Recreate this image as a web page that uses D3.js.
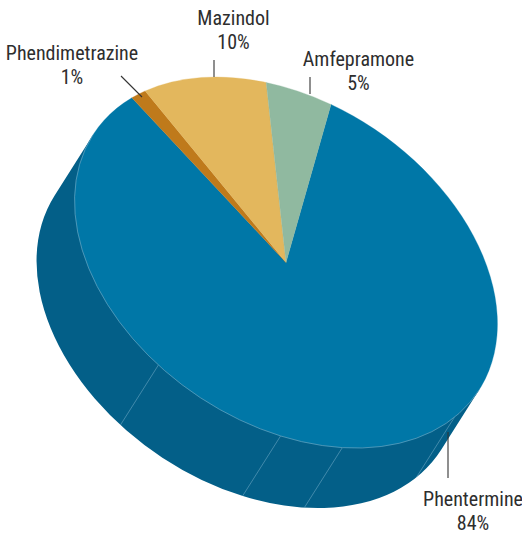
<!DOCTYPE html>
<html>
<head>
<meta charset="utf-8">
<script src="https://cdn.jsdelivr.net/npm/d3@7"></script>
<style>
html,body{margin:0;padding:0;background:#fff}
svg{display:block}
text{font-family:"Liberation Sans Narrow","Roboto Condensed","Liberation Sans",sans-serif;fill:#2e2e2e}
</style>
</head>
<body>
<svg id="chart" width="522" height="536"></svg>
<script>
// ---- data ----
const drugs = ["Phentermine", "Phendimetrazine", "Mazindol", "Amfepramone"];
const shares = [83.6, 1.4, 10.1, 4.9];
const shareLabels = ["84%", "1%", "10%", "5%"];
const wallSeams = [31.9, 42.3, 47.0, 56.9]; // cumulative % along the Phentermine rim

// ---- styles / layout ----
const topColors = ["#0077a7", "#bf7a1b", "#e3b75d", "#90b9a0"];
const wallColor = "#035f88";
const hairColor = "#6ba6c2";
const leaderColor = "#333333";
const W = 522, H = 536;
const cx = 286, cy = 262.5;
const semiMajor = 231.4, semiMinor = 160, tilt = 34.2 * Math.PI / 180;
const depthPx = [-38, 60];
const startDeg = -12.9;
const labelLayout = {
  "Phentermine":     {x: 473,   y: 506, lead: [[448, 432], [448, 478]]},
  "Phendimetrazine": {x: 72,    y: 60,  lead: [[121, 76], [142, 97]]},
  "Mazindol":        {x: 233.5, y: 25,  lead: [[214, 60], [214, 77]]},
  "Amfepramone":     {x: 358.5, y: 66,  lead: [[310, 77], [310, 94]]}
};

// ---- geometry: unit circle -> tilted ellipse ----
const A = semiMajor * Math.cos(tilt), B = semiMajor * Math.sin(tilt);
const C = -semiMinor * Math.sin(tilt), D = semiMinor * Math.cos(tilt);
const det = A * D - B * C;
const dx = (D * depthPx[0] - C * depthPx[1]) / det;
const dy = (-B * depthPx[0] + A * depthPx[1]) / det;
const startAngle = startDeg * Math.PI / 180;
const pctToAngle = d3.scaleLinear().domain([0, 100]).range([startAngle, startAngle + 2 * Math.PI]);
const toCanvas = a => a - Math.PI / 2; // d3.arc angle -> canvas angle

const svg = d3.select("#chart");
const faceTf = `matrix(${A},${B},${C},${D},${cx},${cy})`;

const records = drugs.map((name, i) => ({name, share: shares[i], label: shareLabels[i], color: topColors[i]}));
const pie = d3.pie().sort(null).value(d => d.share).startAngle(startAngle).endAngle(startAngle + 2 * Math.PI);
const arc = d3.arc().innerRadius(0).outerRadius(1);

// ---- side wall ----
const depthDir = Math.atan2(dy, dx);
const tR = depthDir - Math.PI / 2, tL = depthDir + Math.PI / 2;
const wallPath = d3.path();
wallPath.moveTo(Math.cos(tR), Math.sin(tR));
wallPath.lineTo(Math.cos(tR) + dx, Math.sin(tR) + dy);
wallPath.arc(dx, dy, 1, tR, tL);
wallPath.lineTo(Math.cos(tL), Math.sin(tL));
wallPath.closePath();

const g = svg.append("g").attr("transform", faceTf);
g.append("path").attr("d", wallPath.toString()).attr("fill", wallColor);

// seams on the wall
const seamLine = d3.line();
g.selectAll("path.seam").data(wallSeams).join("path")
  .attr("class", "seam")
  .attr("d", p => {
    const t = toCanvas(pctToAngle(p));
    const x = Math.cos(t), y = Math.sin(t);
    return seamLine([[x, y], [x + dx, y + dy]]);
  })
  .attr("fill", "none").attr("stroke", hairColor).attr("stroke-width", 0.6)
  .attr("vector-effect", "non-scaling-stroke");

// top face
g.selectAll("path.slice").data(pie(records)).join("path")
  .attr("class", "slice")
  .attr("d", arc)
  .attr("fill", d => d.data.color)
  .attr("stroke", d => d.data.color)
  .attr("stroke-width", 0.3)
  .attr("vector-effect", "non-scaling-stroke");

// highlight on the front rim
const rim = d3.path();
rim.arc(0, 0, 1, tR, tL);
g.append("path").attr("d", rim.toString())
  .attr("fill", "none").attr("stroke", hairColor).attr("stroke-width", 0.7)
  .attr("vector-effect", "non-scaling-stroke");

// ---- labels ----
const labels = svg.append("g");
records.forEach(r => {
  const l = labelLayout[r.name];
  labels.append("line")
    .attr("x1", l.lead[0][0]).attr("y1", l.lead[0][1])
    .attr("x2", l.lead[1][0]).attr("y2", l.lead[1][1])
    .attr("stroke", leaderColor).attr("stroke-width", 1.1);
  const t = labels.append("text").attr("text-anchor", "middle").attr("font-size", 20);
  t.append("tspan").attr("x", l.x).attr("y", l.y).text(r.name);
  t.append("tspan").attr("x", l.x).attr("y", l.y + 24).text(r.label);
});
</script>
</body>
</html>
